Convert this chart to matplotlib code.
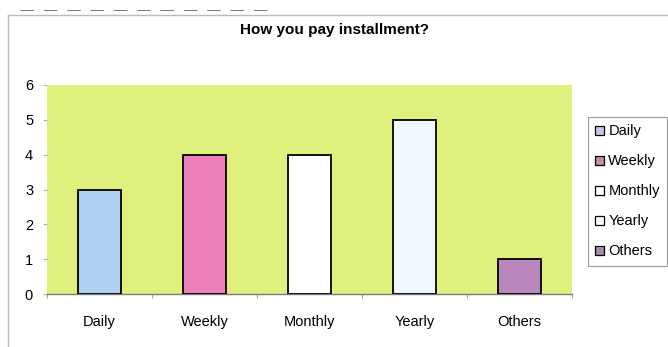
import matplotlib
matplotlib.use("Agg")
import matplotlib.pyplot as plt
from matplotlib.lines import Line2D
from matplotlib.patches import Patch

plt.rcParams['font.family'] = ['Liberation Sans', 'DejaVu Sans']

categories = ["Daily", "Weekly", "Monthly", "Yearly", "Others"]
values = [3, 4, 4, 5, 1]
bar_colors = ["#AFD0F0", "#EB80BC", "#FFFFFF", "#EEF8FE", "#B888BC"]
legend_colors = ["#C4C8E6", "#C88AA6", "#FFFFFF", "#FFFFFF", "#A98AA6"]
title = "How you pay installment?"
yticks = [0, 1, 2, 3, 4, 5, 6]

W, H = 668, 347
fig = plt.figure(figsize=(W / 100, H / 100), dpi=100)
fig.patch.set_facecolor("white")

ax = fig.add_axes([47 / W, 1 - 294 / H, (572 - 47) / W, (294 - 85) / H])
ax.set_facecolor("#E0F07C")

x = list(range(len(categories)))
ax.bar(x, values, width=0.41, color=bar_colors, edgecolor="black", linewidth=1.3, zorder=3)

ax.set_xlim(-0.5, len(categories) - 0.5)
ax.set_ylim(0, 6)
ax.set_yticks(yticks)
ax.set_xticks(x)
ax.set_xticklabels(categories, fontsize=10.5)
ax.tick_params(axis="x", length=0, pad=15)
ax.set_xticks([i + 0.5 for i in range(-1, len(categories))], minor=True)
ax.tick_params(axis="x", which="minor", length=3, color="#A0A0A0", width=0.8)
ax.tick_params(axis="y", length=3, color="#B0B0B0", width=0.8, labelsize=10.5, pad=7)
for s in ["top", "right", "left"]:
    ax.spines[s].set_visible(False)
ax.spines["bottom"].set_color("#7A7A7A")
ax.spines["bottom"].set_linewidth(1.0)

fig.text(0.5, 1 - 30 / H, title, ha="center", va="center", fontsize=11, fontweight="bold")

handles = [Patch(facecolor=c, edgecolor="black", linewidth=0.9) for c in legend_colors]
leg = fig.legend(handles, categories, loc="upper left",
                 bbox_to_anchor=(588 / W, 1 - 117 / H), fontsize=10.5,
                 handlelength=0.6, handleheight=0.6, handletextpad=0.3,
                 labelspacing=1.1, borderpad=0.5, borderaxespad=0,
                 frameon=True, fancybox=False)
leg.get_frame().set_edgecolor("#808080")
leg.get_frame().set_linewidth(0.8)

# outer chart frame (left and top edges visible)
fig.add_artist(Line2D([8 / W, 8 / W], [0, 1 - 15 / H], color="#BBBBBB", lw=1.0))
fig.add_artist(Line2D([8 / W, 1], [1 - 15 / H, 1 - 15 / H], color="#BBBBBB", lw=1.0))
fig.add_artist(Line2D([0.03, 0.40], [1 - 10 / H, 1 - 10 / H], color="#777777", lw=0.7, ls=(0, (14, 10))))

fig.savefig("out.png", dpi=100)
